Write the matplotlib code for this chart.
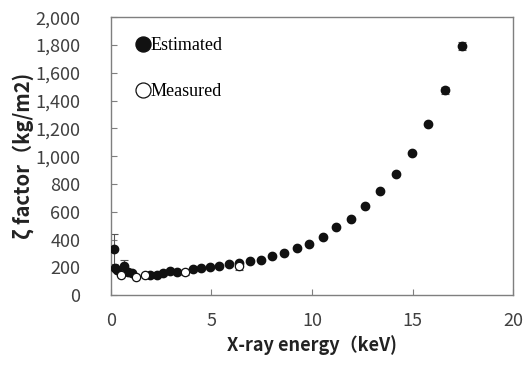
import numpy as np
import matplotlib.pyplot as plt

# Estimated zeta factor
est_e = [0.14, 0.2, 0.28, 0.66, 0.86, 1.03, 1.94, 2.27, 2.57, 2.94, 3.3, 4.06, 4.48,
         4.93, 5.39, 5.89, 6.38, 6.92, 7.46, 8.03, 8.63, 9.24, 9.87, 10.53, 11.2,
         11.92, 12.65, 13.38, 14.16, 14.96, 15.75, 16.6, 17.48]
est_z = [331, 194, 180, 211, 168, 156, 144, 146, 156, 175, 163, 187, 192,
         204, 209, 223, 228, 247, 252, 281, 302, 336, 370, 419, 487,
         545, 643, 746, 870, 1023, 1228, 1473, 1794]
est_err = [110, 0, 0, 40, 0, 0, 0, 0, 0, 0, 0, 0, 0,
           0, 0, 0, 0, 0, 0, 0, 0, 0, 0, 0, 0,
           0, 0, 0, 0, 0, 0, 25, 30]

# Measured zeta factor
meas_e = [0.5, 1.23, 1.72, 3.68, 6.38]
meas_z = [144, 132, 144, 163, 211]
meas_err = [0, 0, 0, 15, 30]

fig, ax = plt.subplots(figsize=(5.23, 3.67), dpi=100)
fig.subplots_adjust(left=0.212, right=0.981, top=0.953, bottom=0.196)

est_e = np.array(est_e); est_z = np.array(est_z); est_err = np.array(est_err)
meas_e = np.array(meas_e); meas_z = np.array(meas_z); meas_err = np.array(meas_err)

m = est_err > 0
ax.errorbar(est_e[m], est_z[m], yerr=est_err[m], fmt='none', ecolor='#555555',
            elinewidth=0.8, capsize=3, capthick=0.8, zorder=2)
m2 = meas_err > 0
ax.errorbar(meas_e[m2], meas_z[m2], yerr=meas_err[m2], fmt='none', ecolor='#555555',
            elinewidth=0.8, capsize=3, capthick=0.8, zorder=2)

ax.plot(est_e, est_z, 'o', color='#111111', ms=6, zorder=3, label='Estimated')
ax.plot(meas_e, meas_z, 'o', mfc='white', mec='#111111', mew=0.9, ms=6, zorder=4,
        label='Measured')

ax.set_xlim(0, 20)
ax.set_ylim(0, 2000)
ax.set_xticks([0, 5, 10, 15, 20])
ax.set_yticks(range(0, 2001, 200))
ax.yaxis.set_major_formatter(plt.FuncFormatter(lambda v, p: f'{int(v):,}'))

for s in ax.spines.values():
    s.set_color('#7f7f7f')
    s.set_linewidth(1.0)
ax.tick_params(direction='in', length=4, color='#7f7f7f', labelsize=13,
               labelcolor='#404040')
for lab in ax.get_xticklabels() + ax.get_yticklabels():
    lab.set_family('Noto Sans CJK JP')
ax.tick_params(axis='x', pad=12)
ax.tick_params(axis='y', pad=22)

ax.set_xlabel('X-ray energy（keV)', family='Noto Sans CJK JP', fontsize=13,
              fontweight='bold', color='#222222', labelpad=4)
ax.set_ylabel('ζ factor（kg/m2)', family='Noto Sans CJK JP', fontsize=14.5,
              fontweight='bold', color='#222222', labelpad=1)

leg = ax.legend(loc='upper left', frameon=False, prop={'family': 'Liberation Serif', 'size': 13},
                handletextpad=-0.3, labelspacing=1.6, borderaxespad=0.7,
                handlelength=1.4, markerscale=1.8)

fig.savefig('out.png', dpi=100)
